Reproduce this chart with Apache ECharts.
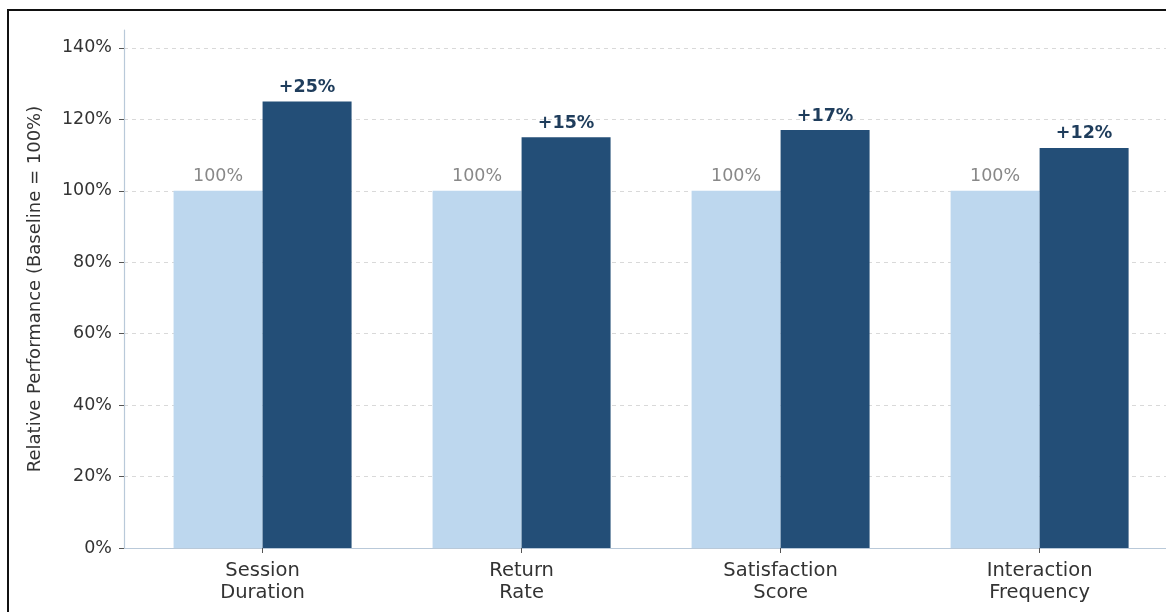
<!DOCTYPE html>
<html>
<head>
<meta charset="utf-8">
<script src="https://cdn.jsdelivr.net/npm/echarts@6/dist/echarts.min.js"></script>
<style>
html,body{margin:0;padding:0;background:#fff;}
#chart{width:1166px;height:612px;}
</style>
</head>
<body>
<div id="chart"></div>
<script>
const categories = ['Session\nDuration', 'Return\nRate', 'Satisfaction\nScore', 'Interaction\nFrequency'];
const baseline = [100, 100, 100, 100];
const improved = [125, 115, 117, 112];
const yTicks = [0, 20, 40, 60, 80, 100, 120, 140];
const catPositions = [0, 1, 2, 3];

const font = 'DejaVu Sans';
const chart = echarts.init(document.getElementById('chart'));
chart.setOption({
  animation: false,
  backgroundColor: '#fff',
  textStyle: { fontFamily: font },
  graphic: [{
    type: 'rect', silent: true, z: 100,
    shape: { x: 8, y: 10, width: 1200, height: 700 },
    style: { fill: 'none', stroke: '#111', lineWidth: 2 }
  }],
  grid: { left: 124, top: 30, right: 0, bottom: 64, containLabel: false },
  xAxis: {
    type: 'value', min: -0.535, max: 3.488,
    splitLine: { show: false },
    axisLine: { show: true, onZero: false, lineStyle: { color: '#b9c9d9', width: 1.2 } },
    axisTick: { show: true, customValues: catPositions, length: 5, lineStyle: { color: '#555' } },
    axisLabel: {
      customValues: catPositions,
      formatter: v => categories[Math.round(v)],
      color: '#333', fontSize: 19.5, lineHeight: 22, margin: 12, fontFamily: font
    }
  },
  yAxis: {
    type: 'value', min: 0, max: 145, interval: 20,
    name: 'Relative Performance (Baseline = 100%)',
    nameLocation: 'middle', nameGap: 80, nameRotate: 90,
    nameTextStyle: { color: '#333', fontSize: 18, fontFamily: font },
    axisLine: { show: true, onZero: false, lineStyle: { color: '#b9c9d9', width: 1.2 } },
    axisTick: { show: true, customValues: yTicks, length: 5, lineStyle: { color: '#555' } },
    axisLabel: {
      customValues: yTicks,
      formatter: v => v + '%', color: '#333', fontSize: 17.5, margin: 12, fontFamily: font
    },
    splitLine: {
      show: true,
      lineStyle: { type: [4, 4], color: ['#d9d9d9','#d9d9d9','#d9d9d9','#d9d9d9','#d9d9d9','#d9d9d9','#d9d9d9','#d9d9d9','rgba(0,0,0,0)'], width: 1 }
    }
  },
  series: [
    {
      type: 'bar', name: 'Baseline',
      data: baseline.map((v, i) => [catPositions[i], v]),
      barWidth: 89, barGap: '0%',
      itemStyle: { color: '#bdd7ee' },
      label: {
        show: true, position: 'top', distance: 5,
        formatter: p => p.value[1] + '%',
        color: '#888', fontSize: 17.5, fontFamily: font
      }
    },
    {
      type: 'bar', name: 'Improved',
      data: improved.map((v, i) => [catPositions[i], v]),
      barWidth: 89, barGap: '0%',
      itemStyle: { color: '#234e77' },
      label: {
        show: true, position: 'top', distance: 5,
        formatter: p => '+' + (p.value[1] - 100) + '%',
        color: '#1f3d5c', fontSize: 17.5, fontWeight: 'bold', fontFamily: font
      }
    }
  ]
});
</script>
</body>
</html>
